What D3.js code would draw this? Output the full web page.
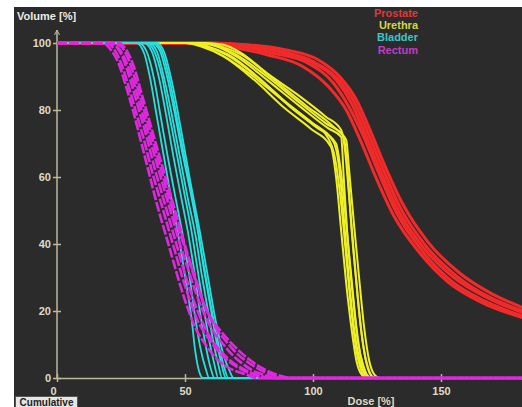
<!DOCTYPE html>
<html>
<head>
<meta charset="utf-8">
<script src="https://cdn.jsdelivr.net/npm/d3@7"></script>
<style>
  body { margin: 0; background: #ffffff; }
  svg text { font-family: "Liberation Sans", Arial, sans-serif; font-weight: bold; }
</style>
</head>
<body>
<div id="chart"></div>
<script>
// Dose-volume histogram, one curve per plan, four organs

// Axis ticks
let doseTicks = [0, 50, 100, 150];
let volumeTicks = [0, 20, 40, 60, 80, 100];

// Legend names (drawing order: prostate first, rectum on top)
let organNames = ["Prostate", "Urethra", "Bladder", "Rectum"];

// Curves as [dose %, volume %] pairs
let prostateCurves = [
    [[0,100],[60,100],[74,99.5],[89,98],[102,95],[111,89.5],[117,83],[122,74.5],[128,63.5],[135,52],[145,40.5],[157,31.5],[169,25.5],[182,21]],
    [[0,100],[58,100],[72,99.5],[87,97.5],[100,94.5],[110,89],[116,82.5],[121,74],[127,63],[134,51],[144,39.5],[156,30.5],[168,24.5],[182,20]],
    [[0,100],[56,100],[70,99.5],[86,97.5],[99,94.5],[109,89],[115,82],[120,73.5],[126,62.5],[133,50.5],[143,39],[155,30],[168,24],[182,19.5]],
    [[0,100],[55,100],[68,99.5],[84,97],[98,94],[108,88],[114,81],[119.5,72.5],[125.5,61.5],[132.5,49.5],[142.5,38],[154,29],[167,23],[182,18.5]],
    [[0,100],[54,100],[66,99],[82,96.5],[96,93],[106,87],[113,80],[118.5,71],[124.5,60],[131.5,48.5],[141.5,37.5],[153,28.5],[166,22.5],[182,18]]
];

let urethraCurves = [
    [[0,100],[58,100],[65,99.5],[72,97],[82,91],[95,84],[105,78],[111,74],[112.5,68],[114,55],[116,37],[118,20],[120,8],[122,2],[124,0],[182,0]],
    [[0,100],[56,100],[63,99],[70,96.5],[82,90],[95,82],[105,76],[112,72],[113.5,62],[115,45],[117,28],[119,13],[121,4],[123,0.5],[125,0],[182,0]],
    [[0,100],[55,100],[62,99],[70,96],[82,89],[95,81],[106,74.5],[111,72],[112,60],[113.5,42],[115.5,25],[117.5,11],[120,3],[122,0],[182,0]],
    [[0,100],[57,100],[64,99],[72,96.5],[84,89.5],[97,81.5],[108,75],[113,71],[114,63],[116,46],[118,30],[120,15],[122,5],[124,1],[126,0],[182,0]],
    [[0,100],[52,100],[58,99],[66,96.5],[78,90],[90,82],[100,76],[108,70.5],[110,64],[112,48],[114,30],[116,15],[118,6],[120,1.5],[122,0],[182,0]],
    [[0,100],[50,100],[56,99],[65,96],[77,89],[89,80.5],[99,74.5],[107,69],[109,60],[111,44],[113,28],[115,15],[117,5],[119,1],[121,0],[182,0]],
    [[0,100],[53,100],[59,99],[67,96.5],[79,89.5],[91,81],[101,75],[109,70],[111,61],[113,46],[115,30],[117,15],[119,5],[121,1],[123,0],[182,0]],
    [[0,100],[51,100],[57,99],[64,96.5],[75,91],[88,83],[98,77],[106,71.5],[108.5,66],[111,52],[113,36],[115,20],[117,8],[119,2],[121,0],[182,0]]
];

let bladderCurves = [
    [[0,100],[31,100],[34,97],[36.5,89],[39,78],[42,65],[45,52],[48,40],[50.5,28],[52.5,18],[54,8],[55.5,2],[57,0],[182,0]],
    [[0,100],[32,100],[35,97.5],[38,89],[40.5,78],[43.5,65],[46.5,53],[49.5,41],[52,29],[54,18],[56,9],[58,3],[59.5,0],[182,0]],
    [[0,100],[34,100],[37,97.5],[40,89],[42.5,79],[45.5,66],[48.5,54],[51.5,42],[54,30],[56,19],[58,10],[60,3],[61.5,0],[182,0]],
    [[0,100],[35,100],[38,97.5],[41,90],[43.5,80],[46.5,68],[49.5,56],[52.5,44],[55,32],[57.5,20],[59.5,11],[61.5,4],[63,0],[182,0]],
    [[0,100],[36,100],[39,97.5],[42,89],[45,78],[48,66],[51,54],[54,43],[56.5,31],[59,20],[61,11],[63,4],[64.5,0],[182,0]],
    [[0,100],[37,100],[40,98],[43,90],[46,79],[49,67],[52,56],[55,44],[57.5,32],[60,21],[62,12],[64,5],[66,0],[182,0]],
    [[0,100],[39,100],[42,97],[45,88],[48.5,74],[52,59],[55.5,45],[59,30],[62,17],[65,7],[67.5,2],[69,0],[182,0]],
    [[0,100],[38,100],[41,97.5],[44,89],[47,77],[50.5,63],[54,49],[57,35],[60,22],[62.5,12],[65,4],[67,0],[182,0]]
];

let rectumCurves = [
    [[0,100],[18,100],[21,98],[24,94],[27,87],[30,79],[33,70],[36,61],[39,52],[42,44],[45,36],[48,28],[51,21],[54,15],[58,10],[62,6],[66,3.5],[70,2],[74,1],[78,0],[182,0]],
    [[0,100],[19,100],[22,98.5],[25,94],[28,87],[31,79],[34,71],[37,62],[40,54],[43,46],[46,38],[49,30],[52,23],[55,17],[59,12],[63,8],[67,5],[71,3],[75,1.5],[79,0.5],[82,0],[182,0]],
    [[0,100],[20,100],[23,99],[26,95],[29,88],[32,80],[35,72],[38,63],[41,55],[44,47],[47,39],[50,31],[53,24],[56,18],[60,12],[64,8],[68,5],[72,3],[76,1.5],[80,0.5],[84,0],[182,0]],
    [[0,100],[21,100],[24,98.5],[27,94.5],[30,88],[33,80],[36,72],[39,64],[42,56],[45,48],[48,40],[51,33],[54,26],[57,20],[61,14],[65,10],[69,6.5],[73,4],[77,2],[81,1],[85,0],[182,0]],
    [[0,100],[22,100],[25,99],[28,95],[31,88],[34,80],[37,72],[40,64],[43,56],[46,48],[49,41],[52,34],[55,27],[58,21],[62,15],[66,11],[70,7.5],[74,5],[78,3],[82,1.5],[86,0.5],[89,0],[182,0]],
    [[0,100],[24,100],[27,98],[30,93],[33,85],[36,77],[39,69],[42,61],[45,53],[48,45],[51,37],[54,30],[57,23],[60,18],[64,14],[68,10.5],[72,7.5],[76,5],[80,3],[84,1.5],[88,0.5],[91,0],[182,0]]
];

let organCurves = [prostateCurves, urethraCurves, bladderCurves, rectumCurves];

// Styles
let lineColors = ["#f22a2a", "#f0f028", "#26e0e0", "#e028e0"];
let legendColors = ["#e23636", "#d6d640", "#3cc6c6", "#c43cc8"];
let lineWidths = [3, 2, 1.8, 2.6];

let svgWidth = 522;
let svgHeight = 407;

let svg = d3.select("#chart")
    .append("svg")
    .attr("width", svgWidth)
    .attr("height", svgHeight);

// dark plot window
svg.append("rect")
    .attr("x", 14)
    .attr("y", 7)
    .attr("width", svgWidth - 14)
    .attr("height", svgHeight - 7)
    .attr("fill", "#2b2b2b");

// Scales: 0 -> 57px, 150 -> 441px; volume 0 -> 378px, 100 -> 43px
let xScale = d3.scaleLinear()
    .domain([0, 182])
    .range([57, 57 + 182 * 2.56]);

let yScale = d3.scaleLinear()
    .domain([0, 100])
    .range([378, 43]);

let axisColor = "#bdb99e";
let labelColor = "#dedbc6";

// X axis
let xAxis = svg.append("g")
    .attr("transform", `translate(0, ${yScale(0)})`)
    .call(d3.axisBottom(xScale).tickValues(doseTicks).tickSize(4).tickSizeOuter(0).tickPadding(5));

xAxis.select(".domain").attr("stroke", axisColor).attr("stroke-width", 1.5);
xAxis.selectAll(".tick line").attr("y1", -4).attr("stroke", axisColor).attr("stroke-width", 1.5);
xAxis.selectAll(".tick text")
    .attr("fill", labelColor)
    .attr("font-size", "11px")
    .attr("dx", d => d === 0 ? -4 : 0);

// Y axis
let yAxis = svg.append("g")
    .attr("transform", `translate(${xScale(0)}, 0)`)
    .call(d3.axisLeft(yScale).tickValues(volumeTicks).tickSize(4).tickPadding(2));

yAxis.select(".domain").remove();
yAxis.selectAll(".tick line").attr("x1", 4).attr("stroke", axisColor).attr("stroke-width", 1.5);
yAxis.selectAll(".tick text")
    .attr("fill", labelColor)
    .attr("font-size", "11px");

// vertical axis line with small arrow at top
let yTop = yScale(100) - 13;
svg.append("line")
    .attr("x1", xScale(0)).attr("x2", xScale(0))
    .attr("y1", yScale(0)).attr("y2", yTop)
    .attr("stroke", axisColor)
    .attr("stroke-width", 1.5);

svg.append("path")
    .attr("d", `M${xScale(0) - 2.5},${yTop + 5} L${xScale(0)},${yTop} L${xScale(0) + 2.5},${yTop + 5}`)
    .attr("fill", "none")
    .attr("stroke", axisColor)
    .attr("stroke-width", 1);

// Curves
let line = d3.line()
    .curve(d3.curveMonotoneX)
    .x(d => xScale(d[0]))
    .y(d => yScale(d[1]));

let curvesGroup = svg.append("g");

organCurves.forEach(function (curves, i) {
    curvesGroup.append("g")
        .selectAll("path")
        .data(curves)
        .enter()
        .append("path")
        .attr("d", line)
        .attr("fill", "none")
        .attr("stroke", lineColors[i])
        .attr("stroke-width", lineWidths[i])
        .attr("stroke-linejoin", "round")
        .attr("stroke-dasharray", i === 3 ? "10,2" : null);
});

// Legend, right aligned
let legend = svg.append("g")
    .attr("text-anchor", "end")
    .attr("font-size", "11px");

legend.selectAll("text")
    .data(organNames)
    .enter()
    .append("text")
    .attr("x", 418)
    .attr("y", (d, i) => 17 + i * 12.2)
    .attr("fill", (d, i) => legendColors[i])
    .text(d => d);

// Axis titles
svg.append("text")
    .attr("x", 17)
    .attr("y", 20)
    .attr("fill", "#ecebe4")
    .attr("font-size", "11px")
    .text("Volume [%]");

svg.append("text")
    .attr("x", 371)
    .attr("y", 405)
    .attr("text-anchor", "middle")
    .attr("fill", labelColor)
    .attr("font-size", "11px")
    .text("Dose [%]");

// "Cumulative" button
svg.append("rect")
    .attr("x", 15.5)
    .attr("y", 396.5)
    .attr("width", 62)
    .attr("height", 12)
    .attr("fill", "#e6e6e6")
    .attr("stroke", "#555555");

svg.append("text")
    .attr("x", 46.5)
    .attr("y", 405.5)
    .attr("text-anchor", "middle")
    .attr("fill", "#222222")
    .attr("font-size", "10px")
    .attr("font-weight", "normal")
    .text("Cumulative");
</script>
</body>
</html>
